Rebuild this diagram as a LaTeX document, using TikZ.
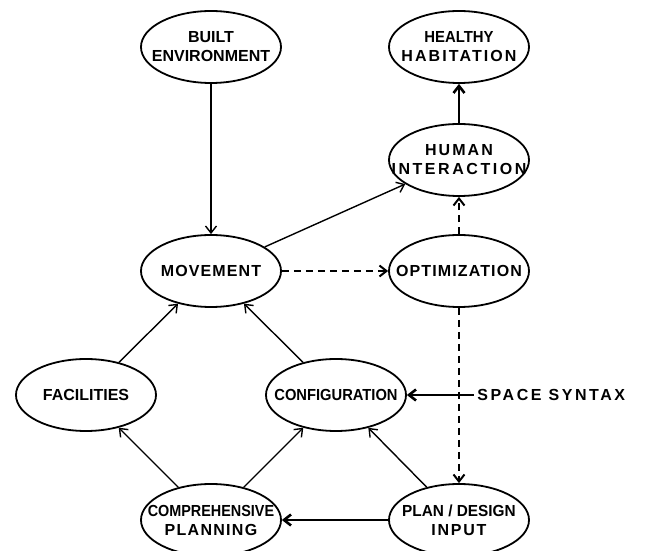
\documentclass[tikz,border=0pt]{standalone}
\usepackage{fontspec}
\setmainfont{Liberation Sans}
\usetikzlibrary{arrows.meta,shapes.geometric,positioning}
\newcommand{\spaced}[2]{{\addfontfeatures{LetterSpace=#1}#2}}
\newcommand{\squeezed}[2]{\scalebox{#1}[1]{#2}}

\tikzset{
  blob/.style={ellipse, draw, line width=1.8pt, minimum width=140pt, minimum height=72pt,
    inner xsep=-40pt, inner ysep=0pt, align=center, font=\bfseries\fontsize{16pt}{19pt}\selectfont},
  thin link/.style={->, line width=1.4pt},
  thick link/.style={->, line width=2.6pt},
  dash link/.style={->, line width=2pt, dash pattern=on 7pt off 5pt},
}

\begin{document}
\begin{tikzpicture}[>={Straight Barb[length=7pt,width=11pt]}]
        \useasboundingbox (-211pt,-280pt) rectangle (435pt,271pt);

        \node[blob] (Movement) at (0,0) {\spaced{7}{MOVEMENT}};
        \node[blob] (Built) [above of=Movement, node distance=224pt] {BUILT\\ENVIRONMENT};
        \node[blob] (Optimization) [right of=Movement, node distance=248pt] {\spaced{7}{OPTIMIZATION}};
        \node[blob] (Human) [above of=Optimization, node distance=111pt] {\spaced{13}{HUMAN}\\\spaced{16}{INTERACTION}};
        \node[blob] (Healthy) [above of=Human, node distance=113pt] {\squeezed{0.93}{HEALTHY}\\\spaced{13}{HABITATION}};

        \node[blob] (Facilities) [below of=Movement, node distance=124pt, xshift=-125pt] {FACILITIES};
        \node[blob] (Configuration) [below of=Movement, node distance=124pt, xshift=125pt] {\squeezed{0.92}{CONFIGURATION}};
        \node[blob] (Comprehensive) [below of=Movement, node distance=249pt] {\squeezed{0.9}{COMPREHENSIVE}\\\spaced{8}{PLANNING}};
        \node[blob] (PlanInput) [below of=Optimization, node distance=249pt] {\squeezed{0.96}{PLAN / DESIGN}\\\spaced{11}{INPUT}};

        \node[font=\bfseries\fontsize{16pt}{19pt}\selectfont, right=67pt of Configuration] (Syntax) {\spaced{16}{SPACE SYNTAX}};

        \draw[thin link] (Built) -- (Movement);
        \draw[thin link] (Movement) -- (Human);
        \draw[dash link] (Movement) -- (Optimization);
        \draw[dash link] (Optimization) -- (Human);
        \draw[thick link] (Human) -- (Healthy);
        \draw[dash link] (Optimization) -- (PlanInput);
        \draw[thick link] (Syntax) -- (Configuration);
        \draw[thick link] (PlanInput) -- (Comprehensive);

        \foreach \from/\to in {Facilities/Movement, Configuration/Movement, Comprehensive/Facilities,
                               Comprehensive/Configuration, PlanInput/Configuration}
        \draw[thin link] (\from) -- (\to);

\end{tikzpicture}
\end{document}
